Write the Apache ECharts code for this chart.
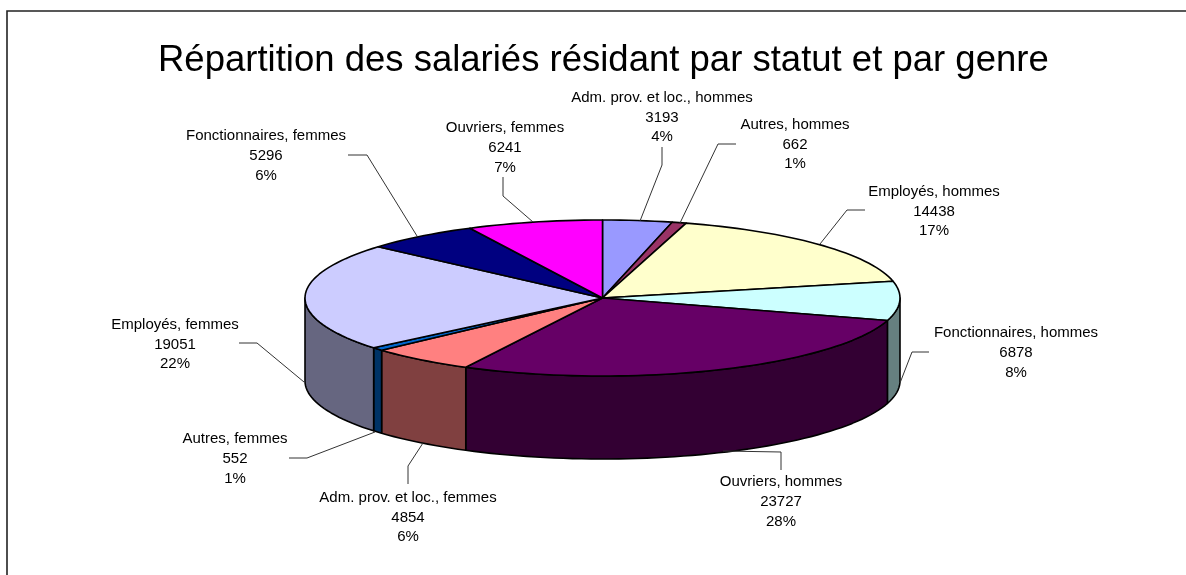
<!DOCTYPE html>
<html><head><meta charset="utf-8">
<style>html,body{margin:0;padding:0;background:#fff}#c{width:1186px;height:575px}</style>
<script src="https://cdn.jsdelivr.net/npm/echarts@6/dist/echarts.min.js"></script>
</head><body><div id="c"></div>
<script>
const categories = ["Adm. prov. et loc., hommes","Autres, hommes","Employés, hommes","Fonctionnaires, hommes","Ouvriers, hommes","Adm. prov. et loc., femmes","Autres, femmes","Employés, femmes","Fonctionnaires, femmes","Ouvriers, femmes"];
const values = [3193,662,14438,6878,23727,4854,552,19051,5296,6241];
const topColors = ["#9999FF","#993366","#FFFFCC","#CCFFFF","#660066","#FF8080","#0066CC","#CCCCFF","#000080","#FF00FF"];
const wallColors = ["#4D4D80","#4D1A33","#808066","#668080","#330033","#804040","#003366","#666680","#000040","#800080"];
const titleText = "Répartition des salariés résidant par statut et par genre";
// layout: label centres and leader polylines, in page pixels
const labelCentres = [[662,117.5],[795,144.5],[934,211.5],[1016,353],[781,502],[408,517.5],[235,459],[175,344.5],[266,156],[505,148]];
const leaderPaths = [
 [[662,147],[662,165],[640,221]],
 [[736,144],[718,144],[680,223]],
 [[865,210],[847,210],[820,244]],
 [[929,352],[912,352],[900,383]],
 [[781,470],[781,452],[723,451]],
 [[408,484],[408,466],[423,443]],
 [[289,458],[307,458],[375,432]],
 [[239,343],[257,343],[304,382]],
 [[348,155],[367,155],[417,236]],
 [[503,177],[503,196],[533,222]]
];
const depth = 83, TAU = Math.PI*2;
const total = values.reduce((a,b)=>a+b,0);
let acc = 0;
const sliceRows = values.map((v,i)=>{const r=[acc/total,(acc+v)/total,i];acc+=v;return r;});

function arcPts(api,a0,a1,dy){
  const n=Math.max(2,Math.ceil((a1-a0)*200)),p=[];
  for(let k=0;k<=n;k++){const t=(a0+(a1-a0)*k/n)*TAU;const c=api.coord([Math.sin(t),Math.cos(t)]);p.push([c[0],c[1]+dy]);}
  return p;
}
const edge={stroke:"#000",lineWidth:1.6,lineJoin:"round"};
function renderWall(params,api){
  const a0=Math.max(api.value(0),0.25),a1=Math.min(api.value(1),0.75),i=api.value(2);
  if(a1<=a0) return {type:"group",children:[]};
  const top=arcPts(api,a0,a1,0),bot=arcPts(api,a0,a1,depth).reverse();
  return {type:"polygon",shape:{points:top.concat(bot)},style:Object.assign({fill:wallColors[i]},edge)};
}
function renderTop(params,api){
  const a0=api.value(0),a1=api.value(1),i=api.value(2);
  const pts=[api.coord([0,0])].concat(arcPts(api,a0,a1,0));
  return {type:"polygon",shape:{points:pts},style:Object.assign({fill:topColors[i]},edge)};
}
function renderLabel(params,api){
  const i=api.value(2),c=labelCentres[i],L=leaderPaths[i];
  const pct=Math.round(values[i]/total*100);
  return {type:"group",children:[
    {type:"polyline",shape:{points:L},style:{stroke:"#333",lineWidth:1,fill:null}},
    {type:"text",x:c[0],y:c[1],style:{text:categories[i]+"\n"+values[i]+"\n"+pct+"%",fill:"#000",align:"center",verticalAlign:"middle",font:"15px 'Liberation Sans'",lineHeight:19.7}}
  ]};
}
const chart=echarts.init(document.getElementById("c"),null,{renderer:"canvas"});
chart.setOption({
  animation:false,backgroundColor:"#fff",
  title:{text:titleText,left:158,top:42,padding:0,textStyle:{fontFamily:"Liberation Sans",fontSize:36.5,fontWeight:"normal",color:"#000"}},
  grid:{left:305,width:595,top:220,height:156,containLabel:false},
  xAxis:{type:"value",min:-1,max:1,show:false},
  yAxis:{type:"value",min:-1,max:1,show:false},
  graphic:[{type:"polyline",silent:true,z:-1,shape:{points:[[7,575],[7,11],[1186,11]]},style:{fill:null,stroke:"#222",lineWidth:1.6}}],
  series:[
    {type:"custom",coordinateSystem:"cartesian2d",data:sliceRows,renderItem:renderWall,encode:{x:0,y:1},clip:false,z:2},
    {type:"custom",coordinateSystem:"cartesian2d",data:sliceRows,renderItem:renderTop,encode:{x:0,y:1},clip:false,z:3},
    {type:"custom",coordinateSystem:"cartesian2d",data:sliceRows,renderItem:renderLabel,encode:{x:0,y:1},clip:false,z:4}
  ]
});
</script></body></html>
